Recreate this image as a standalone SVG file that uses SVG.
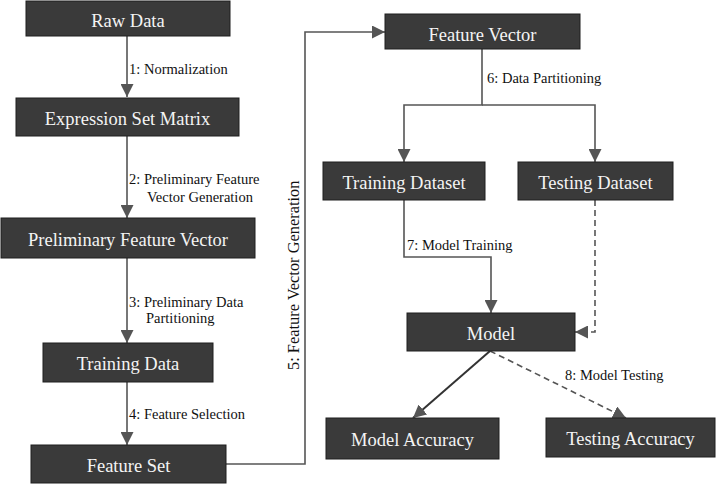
<svg xmlns="http://www.w3.org/2000/svg" width="716" height="484" viewBox="0 0 716 484">
<style>
.box{fill:#3a3a3a;stroke:#1e1e1e;stroke-width:1}
.nt{font-family:"Liberation Serif","Times New Roman",serif;font-size:18.5px;fill:#f4f4f4;text-anchor:middle}
.lbl{font-family:"Liberation Serif","Times New Roman",serif;font-size:14.5px;fill:#111}
.c{fill:none;stroke:#555;stroke-width:1.6}
.d{stroke-dasharray:6,4}
</style>
<defs>
<marker id="ah" viewBox="0 0 10 10" refX="10" refY="5" markerWidth="13" markerHeight="13" markerUnits="userSpaceOnUse" orient="auto">
<path d="M0,0 L10,5 L0,10 z" fill="#555"/>
</marker>
</defs>
<g id="connectors">
<line class="c" x1="127" y1="36" x2="127" y2="97" marker-end="url(#ah)"/>
<line class="c" x1="127" y1="136" x2="127" y2="218" marker-end="url(#ah)"/>
<line class="c" x1="127" y1="258" x2="127" y2="343" marker-end="url(#ah)"/>
<line class="c" x1="127" y1="382" x2="127" y2="445" marker-end="url(#ah)"/>
<polyline class="c" points="226,464 305,464 305,32 385,32" marker-end="url(#ah)"/>
<polyline class="c" points="482,49 482,105 404,105 404,162" marker-end="url(#ah)"/>
<polyline class="c" points="482,105 595,105 595,162" marker-end="url(#ah)"/>
<polyline class="c" points="404,200 404,257 491,257 491,313" marker-end="url(#ah)"/>
<polyline class="c d" points="595,200 595,332 575,332" marker-end="url(#ah)"/>
<line class="c" x1="490" y1="351" x2="413" y2="418" style="stroke:#333;stroke-width:2" marker-end="url(#ah)"/>
<line class="c d" x1="490" y1="351" x2="626" y2="418" marker-end="url(#ah)"/>
<text class="lbl" x="129" y="74">1: Normalization</text>
<text class="lbl" x="129" y="184">2: Preliminary Feature</text>
<text class="lbl" x="147" y="202">Vector Generation</text>
<text class="lbl" x="129" y="307">3: Preliminary Data</text>
<text class="lbl" x="146" y="323">Partitioning</text>
<text class="lbl" x="129" y="419">4: Feature Selection</text>
<text class="lbl" x="299" y="370" style="font-size:16.4px" transform="rotate(-90 299 370)">5: Feature Vector Generation</text>
<text class="lbl" x="487" y="83">6: Data Partitioning</text>
<text class="lbl" x="407" y="250">7: Model Training</text>
<text class="lbl" x="565" y="380">8: Model Testing</text>
</g>
<g id="raw-data"><rect class="box" x="26" y="1" width="204" height="35"/><text class="nt" x="128" y="26.5">Raw Data</text></g>
<g id="expression-set-matrix"><rect class="box" x="16" y="98" width="223" height="38"/><text class="nt" x="127.5" y="124.5">Expression Set Matrix</text></g>
<g id="preliminary-feature-vector"><rect class="box" x="1" y="218" width="254" height="40"/><text class="nt" x="128" y="245.5">Preliminary Feature Vector</text></g>
<g id="training-data"><rect class="box" x="43" y="343" width="170" height="39"/><text class="nt" x="128" y="370">Training Data</text></g>
<g id="feature-set"><rect class="box" x="31" y="445" width="195" height="38"/><text class="nt" x="128.5" y="472">Feature Set</text></g>
<g id="feature-vector"><rect class="box" x="385" y="14" width="195" height="35"/><text class="nt" x="482.5" y="41">Feature Vector</text></g>
<g id="training-dataset"><rect class="box" x="323" y="162" width="162" height="38"/><text class="nt" x="404" y="189">Training Dataset</text></g>
<g id="testing-dataset"><rect class="box" x="518" y="162" width="155" height="38"/><text class="nt" x="595.5" y="189">Testing Dataset</text></g>
<g id="model"><rect class="box" x="407" y="313" width="168" height="38"/><text class="nt" x="491" y="340">Model</text></g>
<g id="model-accuracy"><rect class="box" x="326" y="418" width="173" height="41"/><text class="nt" x="412.5" y="446">Model Accuracy</text></g>
<g id="testing-accuracy"><rect class="box" x="546" y="418" width="169" height="39"/><text class="nt" x="630.5" y="445">Testing Accuracy</text></g>
</svg>
